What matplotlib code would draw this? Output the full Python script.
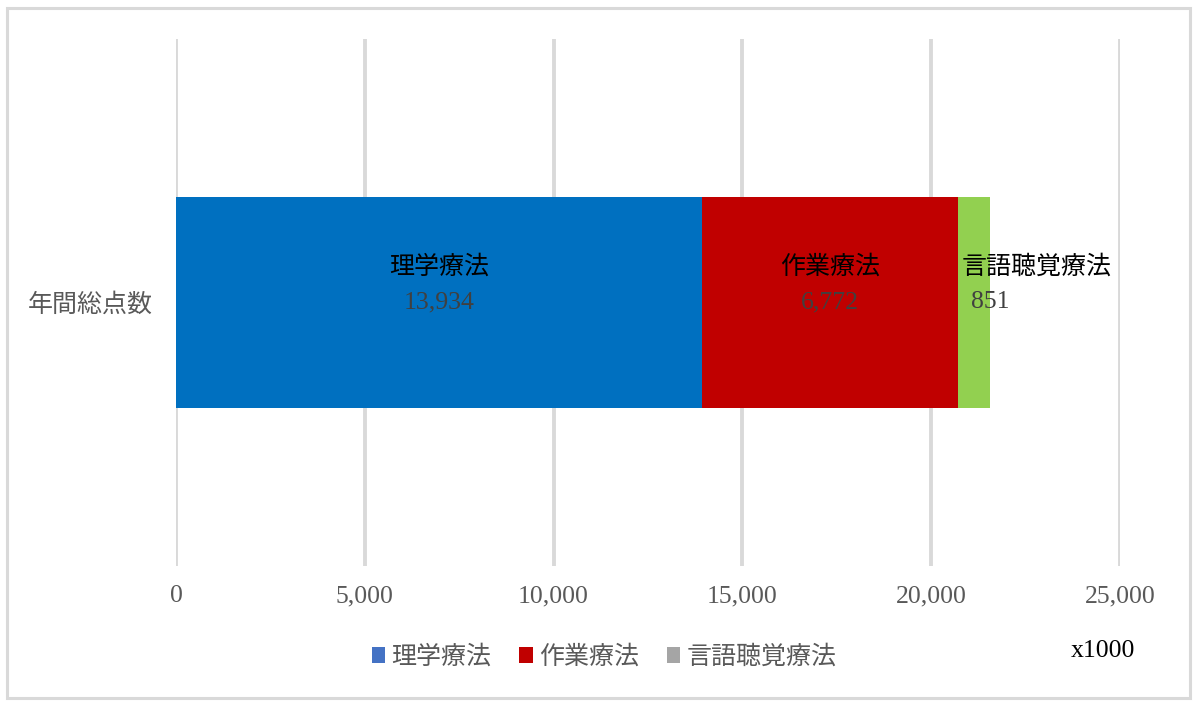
import matplotlib
matplotlib.use("Agg")
import matplotlib.pyplot as plt
from matplotlib.patches import Patch, Rectangle

categories = ["年間総点数"]
series_names = ["理学療法", "作業療法", "言語聴覚療法"]
values = [13934, 6772, 851]
bar_colors = ["#0070C0", "#C00000", "#92D050"]
legend_colors = ["#4472C4", "#C00000", "#A5A5A5"]
xticks = [0, 5000, 10000, 15000, 20000, 25000]
unit_label = "x1000"

FAM = ["Liberation Serif", "Noto Sans CJK JP", "DejaVu Sans"]
plt.rcParams["font.family"] = FAM

W, H = 1203, 710
fig = plt.figure(figsize=(W / 100, H / 100), dpi=100)
ax = fig.add_axes([176 / W, (H - 566) / H, 944 / W, 527 / H])

left = 0
starts = []
for v, c in zip(values, bar_colors):
    ax.barh(0, v, left=left, height=0.4, color=c, zorder=3)
    starts.append(left)
    left += v

ax.set_xlim(0, 25000)
ax.set_ylim(-0.5, 0.5)
ax.set_xticks(xticks)
ax.set_xticklabels([f"{t:,}" for t in xticks])
ax.set_yticks([0])
ax.set_yticklabels(categories)
ax.tick_params(axis="x", length=0, pad=14, labelsize=18.5, labelcolor="#595959")
ax.tick_params(axis="y", length=0, pad=17, labelsize=18, labelcolor="#595959")
for s in ax.spines.values():
    s.set_visible(False)
ax.grid(axis="x", color="#D9D9D9", lw=2.8, zorder=0)
ax.set_axisbelow(True)

# data labels
for i, (name, v, s) in enumerate(zip(series_names, values, starts)):
    if i < 2:
        cx = s + v / 2
        ax.text(cx, 0.068, name, ha="center", va="center", fontsize=18, color="black", zorder=5)
        ax.text(cx, -0.0, f"{v:,}", ha="center", va="center", fontsize=18.5, color="#404040", zorder=5)
    else:
        ax.annotate(name, (s, 0.068), xytext=(3, 0), textcoords="offset points",
                    ha="left", va="center", fontsize=18, color="black", zorder=5)
        ax.annotate(f"{v:,}", (s, 0.0), xytext=(9.5, 0), textcoords="offset points",
                    ha="left", va="center", fontsize=18.5, color="#404040", zorder=5)

handles = [Patch(facecolor=c, edgecolor="none") for c in legend_colors]
leg = fig.legend(handles, series_names, loc="center", bbox_to_anchor=(604 / W, (H - 657) / H),
                 ncol=3, frameon=False, fontsize=18, handlelength=0.55, handleheight=0.55,
                 handletextpad=0.25, columnspacing=1.1, labelcolor="#595959")

fig.text(1103 / W, (H - 651) / H, unit_label, ha="center", va="center", fontsize=18.5, color="black")

fig.patches.append(Rectangle((7 / W, (H - 698) / H), (1190 - 7) / W, (698 - 8) / H,
                             transform=fig.transFigure, fill=False, edgecolor="#D9D9D9", lw=2.2))

fig.savefig("out.png", dpi=100)
